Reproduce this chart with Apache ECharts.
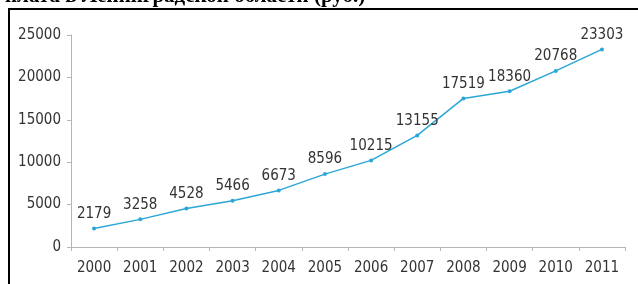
<!DOCTYPE html>
<html>
<head>
<meta charset="utf-8">
<script src="https://cdn.jsdelivr.net/npm/echarts@6/dist/echarts.min.js"></script>
<style>
  html, body { margin: 0; padding: 0; background: #fff; }
  #chart { width: 638px; height: 284px; }
</style>
</head>
<body>
<div id="chart"></div>
<script>
// данные
const years = ['2000', '2001', '2002', '2003', '2004', '2005', '2006', '2007', '2008', '2009', '2010', '2011'];
const salary = [2179, 3258, 4528, 5466, 6673, 8596, 10215, 13155, 17519, 18360, 20768, 23303];
const titleText = 'плата в Ленинградской области (руб.)';

const axisColor = '#b5b5b5';
const textColor = '#333';
const labelFont = '"DejaVu Sans Condensed", Roboto, sans-serif';

const myChart = echarts.init(document.getElementById('chart'));

const option = {
  backgroundColor: '#fff',
  animation: false,
  grid: {
    left: 71,
    right: 13,
    top: 35,
    bottom: 37
  },
  xAxis: {
    type: 'category',
    data: years,
    boundaryGap: true,
    axisLine: { show: true, lineStyle: { color: axisColor, width: 1 } },
    axisTick: { show: true, length: 4, lineStyle: { color: axisColor } },
    axisLabel: {
      color: textColor,
      fontFamily: labelFont,
      fontSize: 15,
      margin: 14
    },
    splitLine: { show: false }
  },
  yAxis: {
    type: 'value',
    min: 0,
    max: 25000,
    interval: 5000,
    axisLine: { show: true, lineStyle: { color: axisColor, width: 1 } },
    axisTick: { show: true, length: 4, lineStyle: { color: axisColor } },
    axisLabel: {
      color: textColor,
      fontFamily: labelFont,
      fontSize: 15,
      margin: 10,
      formatter: v => String(v)
    },
    splitLine: { show: false }
  },
  graphic: [
    // обрезанный заголовок сверху
    {
      type: 'text',
      left: 5,
      top: -14,
      style: {
        text: titleText,
        fill: '#000',
        font: 'bold 21px "Liberation Serif"'
      }
    },
    // рамка слева и сверху
    {
      type: 'line',
      shape: { x1: 9, y1: 9, x2: 638, y2: 9 },
      style: { stroke: '#000', lineWidth: 2 }
    },
    {
      type: 'line',
      shape: { x1: 9, y1: 8, x2: 9, y2: 284 },
      style: { stroke: '#000', lineWidth: 2 }
    }
  ],
  series: [{
    type: 'line',
    data: salary,
    symbol: 'circle',
    symbolSize: 4,
    lineStyle: { color: '#2aa7d6', width: 1.5 },
    itemStyle: { color: '#2aa7d6' },
    label: {
      show: true,
      position: 'top',
      distance: 5,
      color: textColor,
      fontFamily: labelFont,
      fontSize: 15
    }
  }]
};

myChart.setOption(option);
</script>
</body>
</html>
